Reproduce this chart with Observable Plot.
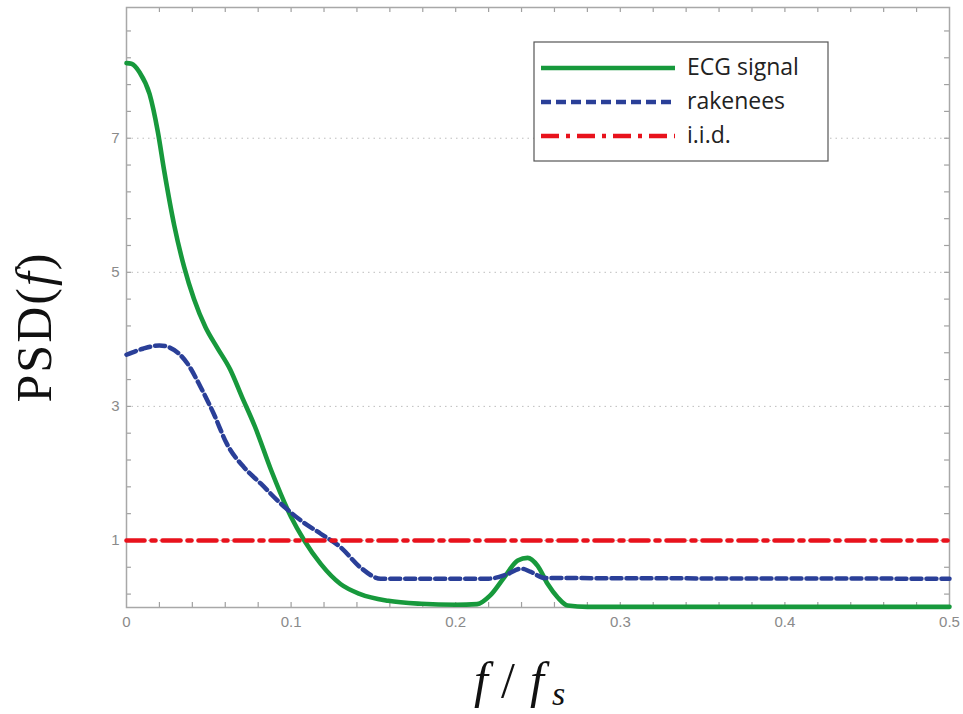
<!DOCTYPE html>
<html><head><meta charset="utf-8">
<script src="https://cdn.jsdelivr.net/npm/d3@7"></script>
<script src="https://cdn.jsdelivr.net/npm/@observablehq/plot@0.6"></script>
<style>
body{margin:0;background:#fff}
#chart{position:relative;width:963px;height:714px}
</style>
</head><body><div id="chart"></div>
<script>
// ---- data ----
const ecgF   = [0, 0.003, 0.008, 0.014, 0.019, 0.023, 0.029, 0.035, 0.041, 0.048, 0.055, 0.063, 0.070, 0.078, 0.088, 0.100, 0.108, 0.118, 0.130, 0.142, 0.159, 0.179, 0.200, 0.213, 0.221, 0.2295, 0.2377, 0.2437, 0.2498, 0.2559, 0.262, 0.268, 0.280, 0.350, 0.500];
const ecgPSD = [8.12, 8.11, 7.98, 7.66, 7.10, 6.50, 5.70, 5.08, 4.60, 4.18, 3.88, 3.55, 3.15, 2.70, 2.04, 1.35, 1.00, 0.65, 0.35, 0.20, 0.10, 0.055, 0.04, 0.05, 0.18, 0.45, 0.70, 0.74, 0.62, 0.35, 0.15, 0.03, 0.01, 0.01, 0.01];
const rakF   = [0, 0.010, 0.020, 0.026, 0.037, 0.045, 0.053, 0.061, 0.0714, 0.0815, 0.0937, 0.1058, 0.118, 0.130, 0.142, 0.1545, 0.220, 0.2316, 0.2397, 0.2457, 0.254, 0.500];
const rakPSD = [3.77, 3.86, 3.91, 3.88, 3.64, 3.29, 2.89, 2.44, 2.09, 1.85, 1.55, 1.30, 1.10, 0.90, 0.60, 0.43, 0.43, 0.50, 0.58, 0.53, 0.44, 0.43];
const iidF   = [0, 0.5];
const iidPSD = [1, 1];
const seriesNames = ["ECG signal", "rakenees", "i.i.d."];
const xTickLabels = [0, 0.1, 0.2, 0.3, 0.4, 0.5];
const yTickLabels = [1, 3, 5, 7];
const xMinorTicks = [0.02,0.04,0.06,0.08,0.1,0.12,0.14,0.16,0.18,0.2,0.22,0.24,0.26,0.28,0.3,0.32,0.34,0.36,0.38,0.4,0.42,0.44,0.46,0.48];
const yMinorTicks = [0.2,0.6,1,1.4,1.8,2.2,2.6,3,3.4,3.8,4.2,4.6,5,5.4,5.8,6.2,6.6,7,7.4,7.8,8.2,8.6];
const xDomain = [0, 0.5];
const yDomain = [0, 8.95];

const toRows = (fs, ps) => fs.map((f, i) => ({f, psd: ps[i]}));
const ecg = toRows(ecgF, ecgPSD);
const rak = toRows(rakF, rakPSD);
const iid = toRows(iidF, iidPSD);

const GREEN = "#17993c", BLUE = "#2a3f98", RED = "#e8121c";
const tickGrey = "#a0a0a0";
// inward tick length expressed in data units of each scale (~5px)
const xTickLen = 0.003, yTickLen = 0.075;

const plot = Plot.plot({
  width: 963, height: 714,
  marginLeft: 126, marginRight: 14, marginTop: 7, marginBottom: 107,
  style: {background: "white", fontFamily: "'Liberation Sans', Arial, sans-serif"},
  x: {domain: xDomain},
  y: {domain: yDomain},
  marks: [
    Plot.gridY(yTickLabels, {stroke: "#bdbdbd", strokeOpacity: 1, strokeDasharray: "1.5,4"}),
    Plot.ruleX(xMinorTicks, {x: d => d, y1: yDomain[0], y2: yDomain[0] + yTickLen, stroke: tickGrey, strokeWidth: 1.2}),
    Plot.ruleX(xMinorTicks, {x: d => d, y1: yDomain[1] - yTickLen, y2: yDomain[1], stroke: tickGrey, strokeWidth: 1.2}),
    Plot.ruleY(yMinorTicks, {y: d => d, x1: xDomain[0], x2: xDomain[0] + xTickLen, stroke: tickGrey, strokeWidth: 1.2}),
    Plot.ruleY(yMinorTicks, {y: d => d, x1: xDomain[1] - xTickLen, x2: xDomain[1], stroke: tickGrey, strokeWidth: 1.2}),
    Plot.axisX(xTickLabels, {anchor: "bottom", tickSize: 0, tickPadding: 9, fontSize: 15, fill: "#8a8a8a", label: null, tickFormat: d => String(d)}),
    Plot.axisY(yTickLabels, {anchor: "left", tickSize: 0, tickPadding: 7, fontSize: 15, fill: "#8a8a8a", label: null, tickFormat: d => String(d)}),
    Plot.frame({stroke: "#a8a8a8", strokeWidth: 1.5}),
    Plot.line(ecg, {x: "f", y: "psd", stroke: GREEN, strokeWidth: 4.6, curve: "monotone-x"}),
    Plot.line(rak, {x: "f", y: "psd", stroke: BLUE, strokeWidth: 4.5, strokeDasharray: "10,5", curve: "monotone-x"}),
    Plot.line(iid, {x: "f", y: "psd", stroke: RED, strokeWidth: 4.6, strokeDasharray: "18,7,4,7"})
  ]
});
document.getElementById("chart").appendChild(plot);

const svg = d3.select(plot);

// y axis title: PSD(f)
const yl = svg.append("text")
  .attr("transform", "translate(51,327) rotate(-90)")
  .attr("text-anchor", "middle")
  .attr("font-family", "'Liberation Serif', 'Times New Roman', serif")
  .attr("font-size", 50)
  .attr("letter-spacing", 2)
  .attr("fill", "#111");
yl.append("tspan").text("PSD(");
yl.append("tspan").attr("font-style", "italic").text("f");
yl.append("tspan").text(")");

// x axis title: f / f_s
const xl = svg.append("text")
  .attr("text-anchor", "start")
  .attr("font-family", "'Liberation Serif', 'Times New Roman', serif")
  .attr("font-size", 50)
  .attr("fill", "#111")
  .attr("y", 697);
xl.append("tspan").attr("x", 474).attr("font-style", "italic").text("f");
xl.append("tspan").attr("x", 501).text("/");
xl.append("tspan").attr("x", 530).attr("font-style", "italic").text("f");
xl.append("tspan").attr("x", 552).attr("dy", 8).attr("font-size", 34).attr("font-style", "italic").text("s");

// legend
const lg = svg.append("g");
lg.append("rect").attr("x", 534).attr("y", 42).attr("width", 294).attr("height", 119)
  .attr("fill", "white").attr("stroke", "#555").attr("stroke-width", 1.2);
const styles = [
  {stroke: GREEN, dash: null, w: 4.6},
  {stroke: BLUE, dash: "10,5", w: 4.5},
  {stroke: RED, dash: "18,7,4,7", w: 4.6}
];
seriesNames.forEach((name, i) => {
  const y = 68 + i * 34;
  const ln = lg.append("line").attr("x1", 541).attr("x2", 675).attr("y1", y).attr("y2", y)
    .attr("stroke", styles[i].stroke).attr("stroke-width", styles[i].w);
  if (styles[i].dash) ln.attr("stroke-dasharray", styles[i].dash);
  lg.append("text").attr("x", 687).attr("y", y + 7).attr("text-anchor", "start")
    .attr("font-family", "'Open Sans', 'Liberation Sans', sans-serif")
    .attr("font-size", 23).attr("fill", "#222").text(name);
});
</script>
</body></html>
